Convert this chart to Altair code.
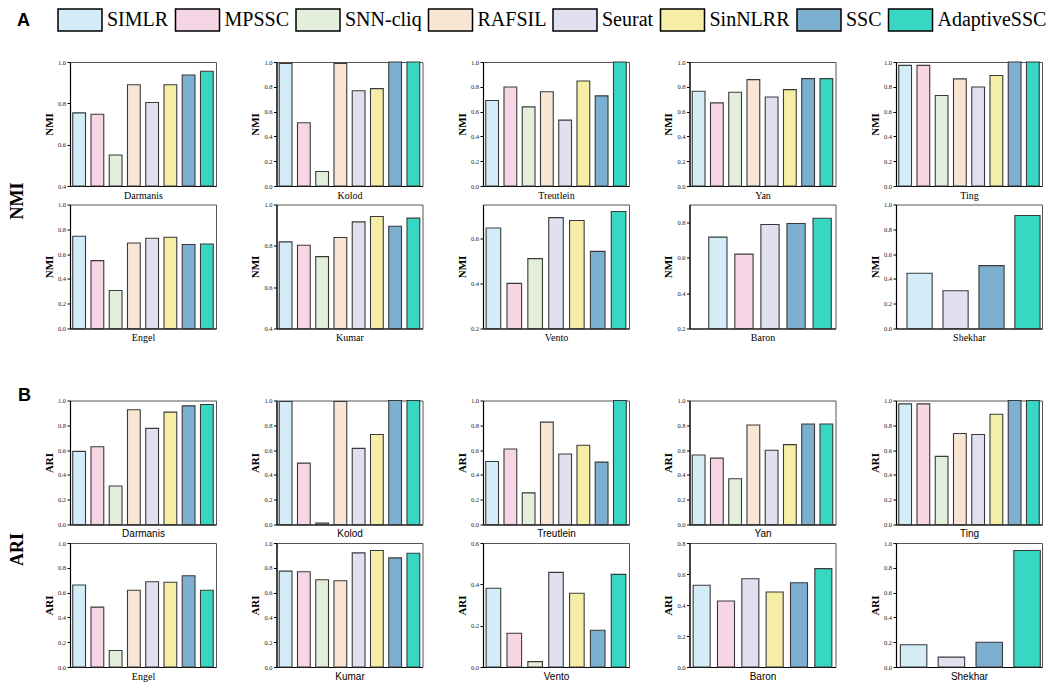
import altair as alt
import pandas as pd

methods = ["SIMLR", "MPSSC", "SNN-cliq", "RAFSIL", "Seurat", "SinNLRR", "SSC", "AdaptiveSSC"]
colors = ["#D3ECF8", "#F6D5E4", "#E3EFDA", "#F9E5D3", "#E1E0F0", "#F6EEA6", "#7DAFD0", "#37D7C4"]

row_a = ["Darmanis", "Kolod", "Treutlein", "Yan", "Ting"]
row_b = ["Engel", "Kumar", "Vento", "Baron", "Shekhar"]

# NMI values (order follows `methods`; None = method not run)
nmi_darmanis = [0.754, 0.747, 0.550, 0.890, 0.804, 0.890, 0.937, 0.955]
nmi_kolod = [0.989, 0.510, 0.117, 0.989, 0.768, 0.785, 1.000, 1.000]
nmi_treutlein = [0.689, 0.798, 0.638, 0.760, 0.531, 0.847, 0.727, 1.000]
nmi_yan = [0.764, 0.670, 0.756, 0.858, 0.718, 0.777, 0.866, 0.866]
nmi_ting = [0.973, 0.973, 0.730, 0.864, 0.798, 0.891, 1.000, 1.000]
nmi_engel = [0.744, 0.547, 0.307, 0.690, 0.728, 0.736, 0.677, 0.682]
nmi_kumar = [0.819, 0.803, 0.748, 0.840, 0.916, 0.942, 0.895, 0.934]
nmi_vento = [0.646, 0.400, 0.510, None, 0.692, 0.679, 0.542, 0.719]
nmi_baron = [0.716, 0.620, None, None, 0.787, None, 0.793, 0.822]
nmi_shekhar = [0.445, None, None, None, 0.305, None, 0.507, 0.911]

# ARI values
ari_darmanis = [0.590, 0.627, 0.311, 0.925, 0.775, 0.906, 0.957, 0.968]
ari_kolod = [0.992, 0.495, 0.011, 0.992, 0.614, 0.726, 1.000, 1.000]
ari_treutlein = [0.508, 0.609, 0.255, 0.826, 0.568, 0.639, 0.503, 1.000]
ari_yan = [0.561, 0.535, 0.369, 0.802, 0.599, 0.644, 0.810, 0.810]
ari_ting = [0.973, 0.973, 0.549, 0.734, 0.726, 0.889, 1.000, 1.000]
ari_engel = [0.661, 0.483, 0.133, 0.619, 0.688, 0.683, 0.736, 0.619]
ari_kumar = [0.773, 0.768, 0.704, 0.696, 0.920, 0.939, 0.880, 0.917]
ari_vento = [0.381, 0.163, 0.026, None, 0.458, 0.357, 0.178, 0.448]
ari_baron = [0.527, 0.426, None, None, 0.569, 0.484, 0.544, 0.635]
ari_shekhar = [0.179, None, None, None, 0.080, None, 0.200, 0.939]

nmi_vals = {"Darmanis": nmi_darmanis, "Kolod": nmi_kolod, "Treutlein": nmi_treutlein,
            "Yan": nmi_yan, "Ting": nmi_ting, "Engel": nmi_engel, "Kumar": nmi_kumar,
            "Vento": nmi_vento, "Baron": nmi_baron, "Shekhar": nmi_shekhar}
ari_vals = {"Darmanis": ari_darmanis, "Kolod": ari_kolod, "Treutlein": ari_treutlein,
            "Yan": ari_yan, "Ting": ari_ting, "Engel": ari_engel, "Kumar": ari_kumar,
            "Vento": ari_vento, "Baron": ari_baron, "Shekhar": ari_shekhar}

# y-axis ranges per panel
nmi_dom = {"Darmanis": (0.4, 1.0), "Kolod": (0, 1), "Treutlein": (0, 1), "Yan": (0, 1),
           "Ting": (0, 1), "Engel": (0, 1), "Kumar": (0.4, 1.0), "Vento": (0.2, 0.75),
           "Baron": (0.2, 0.9), "Shekhar": (0, 1)}
ari_dom = {"Darmanis": (0, 1), "Kolod": (0, 1), "Treutlein": (0, 1), "Yan": (0, 1),
           "Ting": (0, 1), "Engel": (0, 1), "Kumar": (0, 1), "Vento": (0, 0.6),
           "Baron": (0, 0.8), "Shekhar": (0, 1)}

PW, PH = 146, 124
SERIF = "Liberation Serif"
SANS = "Liberation Sans"

legend = alt.Legend(
    orient="none", legendX=-13, legendY=-65, direction="horizontal", columns=8,
    symbolType="M-1,-0.5H1V0.5H-1Z", symbolSize=1936,
    symbolStrokeColor="black", symbolStrokeWidth=1.5, symbolOpacity=1,
    labelFont=SERIF, labelFontSize=20, labelColor="black", labelOffset=4,
    columnPadding=3.5, labelLimit=0, padding=0,
)


def panel(metric, ds, vals, dom, title_font, po=0.15, al=0.5, extras=()):
    rows = [{"method": m, "value": v} for m, v in zip(methods, vals) if v is not None]
    df = pd.DataFrame(rows)
    present = list(df["method"])
    lo, hi = dom
    ticks = []
    t = lo
    while t <= hi + 1e-9:
        ticks.append(round(t, 1))
        t += 0.2
    bars = alt.Chart(df).mark_bar(stroke="#3a3a3a", strokeWidth=1.1).encode(
        x=alt.X("method:N", sort=present,
                scale=alt.Scale(domain=present, paddingInner=0.3, paddingOuter=po, align=al),
                axis=alt.Axis(title=ds, labels=False, ticks=False, titleFont=title_font,
                              titleFontSize=10, titleFontWeight="normal", titlePadding=4,
                              titleColor="black")),
        y=alt.Y("value:Q", scale=alt.Scale(domain=[lo, hi], nice=False, zero=False),
                axis=alt.Axis(values=ticks, format=".1f", title=metric)),
        y2=alt.datum(lo),
        color=alt.Color("method:N", scale=alt.Scale(domain=methods, range=colors),
                        title=None, legend=legend),
    )
    layers = [bars]
    for txt, x, y, font, size, angle in extras:
        tdf = pd.DataFrame({"t": [txt]})
        layers.append(
            alt.Chart(tdf).mark_text(font=font, fontSize=size, fontWeight="bold",
                                     angle=angle, color="black", align="center",
                                     baseline="middle")
            .encode(text="t:N", x=alt.value(x), y=alt.value(y))
        )
    return alt.layer(*layers).properties(width=PW, height=PH)


def build_row(metric, names, vals, doms, fonts, special, first_extras):
    charts = []
    for i, ds in enumerate(names):
        po, al = special.get(ds, (0.15, 0.5))
        ex = first_extras if i == 0 else ()
        charts.append(panel(metric, ds, vals[ds], doms[ds], fonts[i], po, al, ex))
    return charts


def spacer():
    return (
        alt.Chart(pd.DataFrame({"a": [0]}))
        .mark_point(opacity=0)
        .encode(x=alt.value(0), y=alt.value(0))
        .properties(width=PW, height=35, view=alt.ViewBackground(stroke="transparent"))
    )


r1 = build_row("NMI", row_a, nmi_vals, nmi_dom, [SERIF] * 5, {},
               [("A", -46.5, -41, SANS, 18, 0), ("NMI", -52, 139, SERIF, 18, 270)])
r2 = build_row("NMI", row_b, nmi_vals, nmi_dom, [SERIF] * 5,
               {"Baron": (0.45, 0.82), "Shekhar": (0.18, 0.85)}, [])
r3 = build_row("ARI", row_a, ari_vals, ari_dom, [SANS] * 5, {},
               [("B", -45.5, -5, SANS, 18, 0), ("ARI", -52, 149, SERIF, 18, 270)])
r4 = build_row("ARI", row_b, ari_vals, ari_dom, [SERIF, SANS, SANS, SANS, SANS],
               {"Shekhar": (0.08, 0.72)}, [])

cells = r1 + r2 + [spacer() for _ in range(5)] + r3 + r4

chart = (
    alt.concat(*cells, columns=5, spacing={"row": 18.5, "column": 60.5}, bounds="flush")
    .properties(padding={"left": 0, "top": -11, "right": 0, "bottom": 0}, background="white")
    .configure_view(stroke="#555555", strokeWidth=1)
    .configure_axis(grid=False, domainColor="black", domainWidth=1.2)
    .configure_axisY(labelFont=SERIF, labelFontSize=6.5, labelColor="#222222",
                     tickSize=3, tickColor="black", tickWidth=1, labelPadding=1.5,
                     titleFont=SERIF, titleFontSize=11, titleFontWeight="bold",
                     titleColor="black", titlePadding=3)
)

chart.save("out.html", embed_options={"renderer": "svg", "actions": False})
